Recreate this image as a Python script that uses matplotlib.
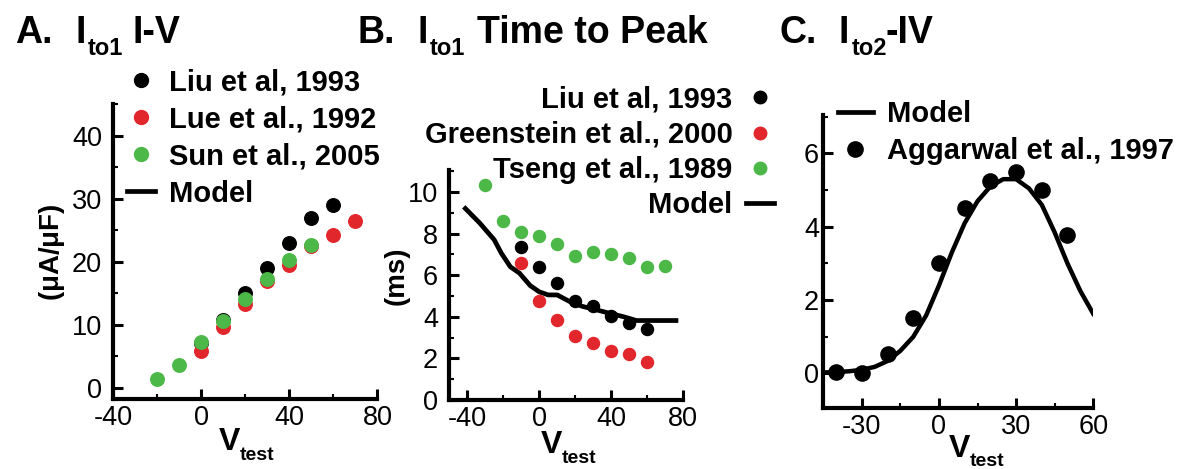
import matplotlib
matplotlib.use('Agg')
import matplotlib.pyplot as plt
from matplotlib.ticker import MultipleLocator
from matplotlib.lines import Line2D

plt.rcParams['font.family'] = 'Liberation Sans'
plt.rcParams['mathtext.fontset'] = 'custom'
plt.rcParams['mathtext.rm'] = 'Liberation Sans'
plt.rcParams['mathtext.bf'] = 'Liberation Sans:bold'
plt.rcParams['mathtext.it'] = 'Liberation Sans:italic'
plt.rcParams['axes.unicode_minus'] = False

RED = '#e1262c'
GREEN = '#4cb848'

# Panel A: Ito1 I-V
a_liu_v = [0, 10, 20, 30, 40, 50, 60]
a_liu_i = [7.1, 10.8, 15.1, 19.0, 23.0, 27.0, 29.0]
a_lue_v = [0, 10, 20, 30, 40, 50, 60, 70]
a_lue_i = [5.9, 9.6, 13.3, 17.0, 19.5, 22.5, 24.3, 26.5]
a_sun_v = [-20, -10, 0, 10, 20, 30, 40, 50]
a_sun_i = [1.4, 3.6, 7.2, 10.6, 14.1, 17.2, 20.2, 22.6]

# Panel B: Ito1 time to peak
b_liu_v = [-10, 0, 10, 20, 30, 40, 50, 60]
b_liu_t = [7.35, 6.4, 5.6, 4.75, 4.5, 4.05, 3.7, 3.4]
b_green_v = [-10, 0, 10, 20, 30, 40, 50, 60]
b_green_t = [6.6, 4.75, 3.86, 3.1, 2.75, 2.35, 2.2, 1.85]
b_tseng_v = [-30, -20, -10, 0, 10, 20, 30, 40, 50, 60, 70]
b_tseng_t = [10.35, 8.6, 8.05, 7.9, 7.5, 6.9, 7.1, 7.0, 6.8, 6.4, 6.45]
b_model_v = [-41, -33, -25, -21, -16, -11, -5, 0, 5, 10, 17, 24, 32, 39, 47, 54, 60, 76]
b_model_t = [9.2, 8.5, 7.7, 7.05, 6.4, 6.1, 5.5, 5.2, 5.05, 5.05, 4.73, 4.5, 4.33, 4.17, 4.0, 3.82, 3.82, 3.82]

# Panel C: Ito2 I-V
c_agg_v = [-40, -30, -20, -10, 0, 10, 20, 30, 40, 50]
c_agg_i = [0.03, 0.02, 0.52, 1.5, 3.0, 4.5, 5.25, 5.5, 5.0, 3.77]
c_model_v = [-44, -40, -35, -30, -25, -20, -15, -10, -5, 0, 5, 10, 15, 20, 25, 30, 35, 40, 45, 50, 55, 60]
c_model_i = [0.03, 0.04, 0.06, 0.1, 0.18, 0.34, 0.62, 1.0, 1.58, 2.4, 3.3, 4.1, 4.7, 5.1, 5.3, 5.3, 5.05, 4.6, 3.85, 3.0, 2.25, 1.63]

fig = plt.figure(figsize=(11.83, 4.69), dpi=100)


def style_axes(ax, ypad):
    for side in ['top', 'right']:
        ax.spines[side].set_visible(False)
    for side in ['left', 'bottom']:
        ax.spines[side].set_linewidth(3)
    ax.tick_params(which='major', direction='in', length=7, width=2.2, labelsize=19.5)
    ax.tick_params(axis='x', which='major', pad=4)
    ax.tick_params(axis='y', which='major', pad=ypad)
    ax.tick_params(which='minor', direction='in', length=3.5, width=1.5)


def vtest(x, yv, ysub):
    # bold V with a smaller "test" subscript, placed in figure coords
    fig.text(x, yv, 'V', fontsize=23, fontweight='bold', ha='right', va='baseline')
    fig.text(x, ysub, 'test', fontsize=14, fontweight='bold', ha='left', va='baseline')


def title(pieces):
    for x, y, s, size in pieces:
        fig.text(x, y, s, fontsize=size, fontweight='bold', va='baseline')


legend_font = {'weight': 'bold', 'size': 21}

# --- A ---
axA = fig.add_axes([0.0958, 0.149, 0.2232, 0.629])
axA.scatter(a_liu_v, a_liu_i, s=95, color='black', zorder=3)
axA.scatter(a_lue_v, a_lue_i, s=95, color=RED, zorder=3)
axA.scatter(a_sun_v, a_sun_i, s=95, color=GREEN, zorder=3)
axA.set_xlim(-40, 80)
axA.set_ylim(-1.8, 45)
axA.set_xticks([-40, 0, 40, 80])
axA.set_yticks([0, 10, 20, 30, 40])
axA.xaxis.set_minor_locator(MultipleLocator(20))
axA.yaxis.set_minor_locator(MultipleLocator(5))
style_axes(axA, 8)
axA.set_ylabel(r'$\mathbf{(\mu A/\mu F)}$', fontsize=20)
axA.yaxis.set_label_coords(-0.177, 0.5)
hA = [Line2D([], [], ls='none', marker='o', ms=10, color='black'),
      Line2D([], [], ls='none', marker='o', ms=10, color=RED),
      Line2D([], [], ls='none', marker='o', ms=10, color=GREEN),
      Line2D([], [], color='black', lw=3.4)]
fig.legend(hA, ['Liu et al, 1993', 'Lue et al., 1992', 'Sun et al., 2005', 'Model'],
           loc='upper left', bbox_to_anchor=(0.107, 0.854), frameon=False,
           prop=legend_font, borderpad=0, borderaxespad=0,
           handlelength=0.96, handletextpad=0.5, labelspacing=0.31)

# --- B ---
axB = fig.add_axes([0.3797, 0.147, 0.1978, 0.4905])
axB.plot(b_model_v, b_model_t, color='black', lw=3.4, zorder=2)
axB.scatter(b_liu_v, b_liu_t, s=75, color='black', zorder=3)
axB.scatter(b_green_v, b_green_t, s=75, color=RED, zorder=3)
axB.scatter(b_tseng_v, b_tseng_t, s=75, color=GREEN, zorder=3)
axB.set_xlim(-50, 80)
axB.set_ylim(0, 11.05)
axB.set_xticks([-40, 0, 40, 80])
axB.set_yticks([0, 2, 4, 6, 8, 10])
axB.xaxis.set_minor_locator(MultipleLocator(20))
axB.yaxis.set_minor_locator(MultipleLocator(1))
style_axes(axB, 8)
axB.set_ylabel('(ms)', fontsize=20, fontweight='bold')
axB.yaxis.set_label_coords(-0.17, 0.54)
hB = [Line2D([], [], ls='none', marker='o', ms=9, color='black'),
      Line2D([], [], ls='none', marker='o', ms=9, color=RED),
      Line2D([], [], ls='none', marker='o', ms=9, color=GREEN),
      Line2D([], [], color='black', lw=3.4)]
fig.legend(hB, ['Liu et al, 1993', 'Greenstein et al., 2000', 'Tseng et al., 1989', 'Model'],
           loc='upper right', bbox_to_anchor=(0.654, 0.8175), frameon=False, markerfirst=False,
           prop=legend_font, borderpad=0, borderaxespad=0,
           handlelength=0.96, handletextpad=0.45, labelspacing=0.25)

# --- C ---
axC = fig.add_axes([0.6959, 0.1294, 0.2282, 0.6254])
axC.plot(c_model_v, c_model_i, color='black', lw=3.2, zorder=2)
axC.scatter(c_agg_v, c_agg_i, s=120, color='black', zorder=3)
axC.set_xlim(-45, 60)
axC.set_ylim(-0.95, 7.05)
axC.set_xticks([-30, 0, 30, 60])
axC.set_yticks([0, 2, 4, 6])
axC.xaxis.set_minor_locator(MultipleLocator(15))
axC.yaxis.set_minor_locator(MultipleLocator(1))
style_axes(axC, 3)
hC = [Line2D([], [], color='black', lw=3.4),
      Line2D([], [], ls='none', marker='o', ms=11, color='black')]
fig.legend(hC, ['Model', 'Aggarwal et al., 1997'],
           loc='upper left', bbox_to_anchor=(0.708, 0.786), frameon=False,
           prop=legend_font, borderpad=0, borderaxespad=0,
           handlelength=1.2, handletextpad=0.48, labelspacing=0.3)

# x labels
vtest(0.2029, 0.0405, 0.019)
vtest(0.4751, 0.034, 0.0128)
vtest(0.8200, 0.026, 0.007)

# panel titles
title([(0.0127, 0.9083, 'A.', 27), (0.0634, 0.9083, 'I', 27),
       (0.0744, 0.8827, 'to1', 17), (0.1123, 0.9083, 'I-V', 27)])
title([(0.3026, 0.9083, 'B.', 27), (0.3525, 0.9083, 'I', 27),
       (0.3635, 0.8827, 'to1', 17), (0.4032, 0.9083, 'Time to Peak', 27)])
title([(0.6593, 0.9083, 'C.', 27), (0.7092, 0.9083, 'I', 27),
       (0.7202, 0.8827, 'to2', 17), (0.7481, 0.9083, '-IV', 27)])

fig.savefig('out.png', dpi=100)
